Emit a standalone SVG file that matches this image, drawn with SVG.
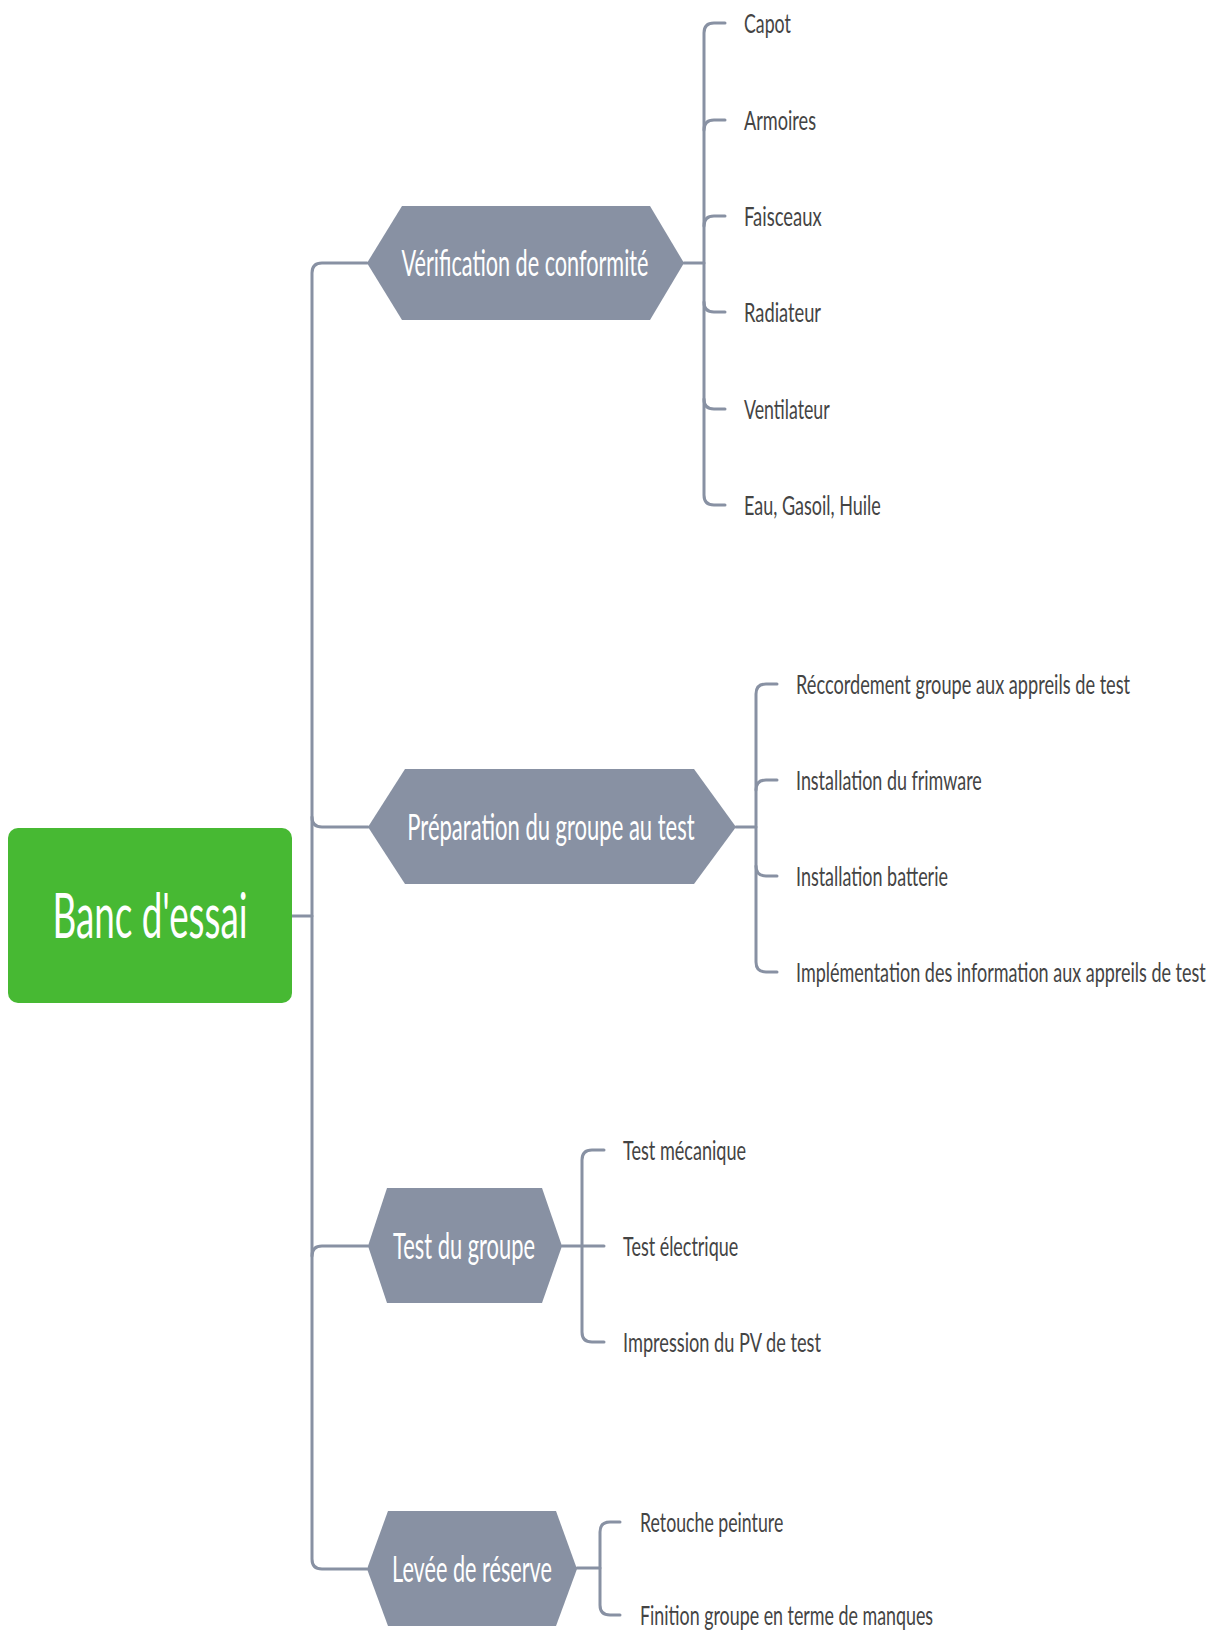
<svg xmlns="http://www.w3.org/2000/svg" width="1221" height="1636" viewBox="0 0 1221 1636">
  <style>
    .link { fill: none; stroke: #8891A3; stroke-width: 3; stroke-linecap: round; }
    .hex { fill: #8891A3; }
    .hex-label { font-family: Lato, "Open Sans", "Liberation Sans", sans-serif; font-size: 36px; fill: #ffffff; text-anchor: middle; }
    .leaf { font-family: Lato, "Open Sans", "Liberation Sans", sans-serif; font-size: 26px; fill: #444444; }
    .root-label { font-family: Lato, "Open Sans", "Liberation Sans", sans-serif; font-size: 62px; fill: #ffffff; text-anchor: middle; }
  </style>
  <rect width="1221" height="1636" fill="#ffffff"/>

  <g id="connectors">
    <!-- root to main trunk -->
    <path class="link" d="M292,916 H312" stroke-width="4"/>
    <path class="link" d="M367,263 H322 Q312,263 312,273 V1559 Q312,1569 322,1569 H367"/>
    <path class="link" d="M312,817 Q312,827 322,827 H368"/>
    <path class="link" d="M312,1256 Q312,1246 322,1246 H368"/>

    <!-- Vérification de conformité -->
    <path class="link" d="M684,263 H704"/>
    <path class="link" d="M725,23 H714 Q704,23 704,33 V495 Q704,505 714,505 H725"/>
    <path class="link" d="M704,130 Q704,120 714,120 H725"/>
    <path class="link" d="M704,226 Q704,216 714,216 H725"/>
    <path class="link" d="M704,302 Q704,312 714,312 H725"/>
    <path class="link" d="M704,399 Q704,409 714,409 H725"/>

    <!-- Préparation du groupe au test -->
    <path class="link" d="M736,827 H756"/>
    <path class="link" d="M777,684 H766 Q756,684 756,694 V962 Q756,972 766,972 H777"/>
    <path class="link" d="M756,790 Q756,780 766,780 H777"/>
    <path class="link" d="M756,866 Q756,876 766,876 H777"/>

    <!-- Test du groupe -->
    <path class="link" d="M562,1246 H604"/>
    <path class="link" d="M604,1150 H592 Q582,1150 582,1160 V1332 Q582,1342 592,1342 H604"/>

    <!-- Levée de réserve -->
    <path class="link" d="M577,1568 H600"/>
    <path class="link" d="M620,1522 H610 Q600,1522 600,1532 V1605 Q600,1615 610,1615 H620"/>
  </g>

  <!-- labels are set in a narrowed face: scale(0.72,1) -->
  <g id="root">
    <rect x="8" y="828" width="284" height="175" rx="10" fill="#47B933"/>
    <text class="root-label" transform="translate(150,938) scale(0.72,1)" textLength="271" lengthAdjust="spacingAndGlyphs">Banc d'essai</text>
  </g>

  <g id="verification">
    <polygon class="hex" points="367,263 402,206 650,206 684,263 650,320 402,320"/>
    <text class="hex-label" transform="translate(525,276) scale(0.72,1)" textLength="343" lengthAdjust="spacingAndGlyphs">Vérification de conformité</text>
  </g>
  <g id="v-capot"><text class="leaf" transform="translate(744,33) scale(0.72,1)" textLength="65" lengthAdjust="spacingAndGlyphs">Capot</text></g>
  <g id="v-armoires"><text class="leaf" transform="translate(744,130) scale(0.72,1)" textLength="100" lengthAdjust="spacingAndGlyphs">Armoires</text></g>
  <g id="v-faisceaux"><text class="leaf" transform="translate(744,226) scale(0.72,1)" textLength="108" lengthAdjust="spacingAndGlyphs">Faisceaux</text></g>
  <g id="v-radiateur"><text class="leaf" transform="translate(744,322) scale(0.72,1)" textLength="107" lengthAdjust="spacingAndGlyphs">Radiateur</text></g>
  <g id="v-ventilateur"><text class="leaf" transform="translate(744,419) scale(0.72,1)" textLength="119" lengthAdjust="spacingAndGlyphs">Ventilateur</text></g>
  <g id="v-fluides"><text class="leaf" transform="translate(744,515) scale(0.72,1)" textLength="190" lengthAdjust="spacingAndGlyphs">Eau, Gasoil, Huile</text></g>

  <g id="preparation">
    <polygon class="hex" points="368,827 405,769 694,769 736,827 694,884 405,884"/>
    <text class="hex-label" transform="translate(551,840) scale(0.72,1)" textLength="399" lengthAdjust="spacingAndGlyphs">Préparation du groupe au test</text>
  </g>
  <g id="p-raccordement"><text class="leaf" transform="translate(796,694) scale(0.72,1)" textLength="464" lengthAdjust="spacingAndGlyphs">Réccordement groupe aux appreils de test</text></g>
  <g id="p-firmware"><text class="leaf" transform="translate(796,790) scale(0.72,1)" textLength="258" lengthAdjust="spacingAndGlyphs">Installation du frimware</text></g>
  <g id="p-batterie"><text class="leaf" transform="translate(796,886) scale(0.72,1)" textLength="211" lengthAdjust="spacingAndGlyphs">Installation batterie</text></g>
  <g id="p-implementation"><text class="leaf" transform="translate(796,982) scale(0.72,1)" textLength="569" lengthAdjust="spacingAndGlyphs">Implémentation des information aux appreils de test</text></g>

  <g id="test">
    <polygon class="hex" points="368,1246 387,1188 542,1188 562,1246 542,1303 387,1303"/>
    <text class="hex-label" transform="translate(464,1259) scale(0.72,1)" textLength="197" lengthAdjust="spacingAndGlyphs">Test du groupe</text>
  </g>
  <g id="t-mecanique"><text class="leaf" transform="translate(623,1160) scale(0.72,1)" textLength="171" lengthAdjust="spacingAndGlyphs">Test mécanique</text></g>
  <g id="t-electrique"><text class="leaf" transform="translate(623,1256) scale(0.72,1)" textLength="160" lengthAdjust="spacingAndGlyphs">Test électrique</text></g>
  <g id="t-pv"><text class="leaf" transform="translate(623,1352) scale(0.72,1)" textLength="275" lengthAdjust="spacingAndGlyphs">Impression du PV de test</text></g>

  <g id="levee">
    <polygon class="hex" points="367,1569 388,1511 556,1511 577,1569 556,1626 388,1626"/>
    <text class="hex-label" transform="translate(472,1582) scale(0.72,1)" textLength="222" lengthAdjust="spacingAndGlyphs">Levée de réserve</text>
  </g>
  <g id="l-retouche"><text class="leaf" transform="translate(640,1532) scale(0.72,1)" textLength="199" lengthAdjust="spacingAndGlyphs">Retouche peinture</text></g>
  <g id="l-finition"><text class="leaf" transform="translate(640,1625) scale(0.72,1)" textLength="407" lengthAdjust="spacingAndGlyphs">Finition groupe en terme de manques</text></g>
</svg>
